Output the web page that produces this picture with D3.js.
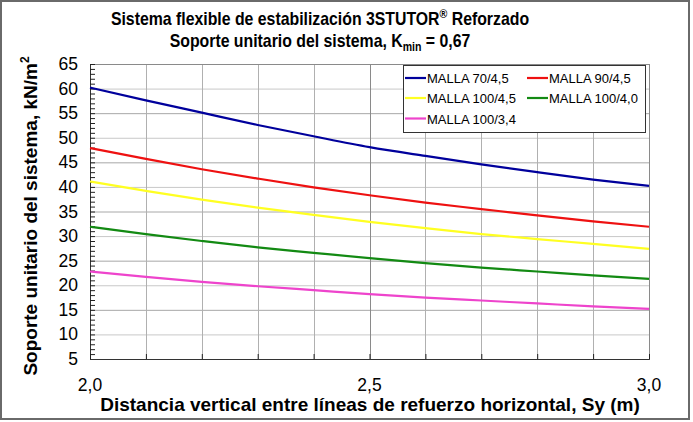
<!DOCTYPE html>
<html><head><meta charset="utf-8">
<script src="https://cdn.jsdelivr.net/npm/d3@7"></script>
<style>
body{margin:0;background:#fff;}
svg text{font-family:"Liberation Sans",Arial,sans-serif;fill:#000;}
</style></head>
<body>
<svg id="c" width="693" height="422"></svg>
<script>
const xValues = [2.0, 2.1, 2.2, 2.3, 2.4, 2.5, 2.6, 2.7, 2.8, 2.9, 3.0];
const malla70_45  = [60.2, 57.6, 55.1, 52.6, 50.3, 48.1, 46.3, 44.6, 43.0, 41.5, 40.2];
const malla90_45  = [47.9, 45.7, 43.6, 41.7, 39.9, 38.3, 36.8, 35.5, 34.2, 33.0, 31.9];
const malla100_45 = [41.1, 39.2, 37.4, 35.8, 34.3, 32.9, 31.6, 30.4, 29.4, 28.4, 27.4];
const malla100_40 = [31.9, 30.4, 29.0, 27.7, 26.6, 25.5, 24.5, 23.6, 22.8, 22.0, 21.3];
const malla100_34 = [22.8, 21.7, 20.7, 19.8, 19.0, 18.2, 17.5, 16.9, 16.3, 15.7, 15.2];
const seriesNames = ["MALLA 70/4,5","MALLA 90/4,5","MALLA 100/4,5","MALLA 100/4,0","MALLA 100/3,4"];
const seriesColors = ["#00009c","#ee1111","#ffff22","#138a13","#ee44cc"];
const yTicks = [5,10,15,20,25,30,35,40,45,50,55,60,65];
const xTicks = [2.0, 2.5, 3.0];
const allSeries = [malla70_45, malla90_45, malla100_45, malla100_40, malla100_34];

const svg = d3.select("#c");
const x = d3.scaleLinear().domain([2,3]).range([90,649]);
const y = d3.scaleLinear().domain([5,65]).range([359,64]);
const fmt = d => d.toFixed(1).replace(".",",");

// outer border
svg.append("rect").attr("x",1).attr("y",1).attr("width",688).attr("height",418)
  .attr("fill","#fff").attr("stroke","#6a6a6a").attr("stroke-width",2);

// grid
const g = svg.append("g");
g.selectAll(".hg").data(d3.range(10,65,5)).join("line")
  .attr("x1",x(2)).attr("x2",x(3)).attr("y1",d=>y(d)+0.5).attr("y2",d=>y(d)+0.5)
  .attr("stroke",d=> d%10===0 ? "#c8c8c8" : "#a8a8a8").attr("stroke-width",1);
g.selectAll(".vg").data(d3.range(1,10).map(i=>2+i/10)).join("line")
  .attr("y1",y(5)).attr("y2",y(65)).attr("x1",d=>Math.round(x(d))+0.5).attr("x2",d=>Math.round(x(d))+0.5)
  .attr("stroke",(d,i)=> i===4 ? "#8a8a8a" : "#b0b0b0").attr("stroke-width",1);

// plot frame
svg.append("rect").attr("x",x(2)+0.5).attr("y",y(65)+0.5).attr("width",x(3)-x(2)).attr("height",y(5)-y(65))
  .attr("fill","none").attr("stroke","#8a8a8a");

// axes with inward ticks
const yAxis = d3.axisRight(y).tickValues(d3.range(5,66,1)).tickSize(5).tickFormat("");
svg.append("g").attr("transform",`translate(${x(2)},0)`).call(yAxis)
  .call(s=>s.select(".domain").attr("stroke","#333"))
  .call(s=>s.selectAll(".tick line").attr("stroke","#222"));
const xAxis = d3.axisTop(x).tickValues(d3.range(0,11).map(i=>2+i/10)).tickSize(5).tickFormat("");
svg.append("g").attr("transform",`translate(0,${y(5)})`).call(xAxis)
  .call(s=>s.select(".domain").attr("stroke","#333"))
  .call(s=>s.selectAll(".tick line").attr("stroke","#222"));

// tick labels
svg.selectAll(".yl").data(yTicks).join("text")
  .attr("x",78).attr("y",d=>y(d)+6).attr("text-anchor","end").attr("font-size",17.5).text(d=>d);
svg.selectAll(".xl").data(xTicks).join("text")
  .attr("x",d=>x(d)).attr("y",391).attr("text-anchor","middle").attr("font-size",17.5).text(fmt);

// lines
const line = d3.line().x((d,i)=>x(xValues[i])).y(d=>y(d)).curve(d3.curveMonotoneX);
svg.selectAll(".ln").data(allSeries).join("path")
  .attr("d",line).attr("fill","none").attr("stroke",(d,i)=>seriesColors[i]).attr("stroke-width",2.2);

// legend
const lg = svg.append("g");
lg.append("rect").attr("x",403.5).attr("y",65.5).attr("width",242).attr("height",67)
  .attr("fill","#fff").attr("stroke","#333");
const legPos = [[405,78],[527,78],[405,98],[527,98],[405,118.5]];
seriesNames.forEach((n,i)=>{
  const [lx,ly]=legPos[i];
  lg.append("line").attr("x1",lx).attr("x2",lx+21).attr("y1",ly).attr("y2",ly)
    .attr("stroke",seriesColors[i]).attr("stroke-width",2.2);
  lg.append("text").attr("x",lx+22).attr("y",ly+5).attr("font-size",13).text(n);
});

// titles (slightly condensed like the original)
const tg = svg.append("g").attr("transform","translate(320,0) scale(0.88,1)");
const t1 = tg.append("text").attr("x",0).attr("y",25).attr("text-anchor","middle")
  .attr("font-size",18).attr("font-weight","bold");
t1.append("tspan").text("Sistema flexible de estabilización 3STUTOR");
t1.append("tspan").attr("font-size",12).attr("dy",-7).text("®");
t1.append("tspan").attr("dy",7).text(" Reforzado");
const t2 = tg.append("text").attr("x",0).attr("y",47).attr("text-anchor","middle")
  .attr("font-size",18).attr("font-weight","bold");
t2.append("tspan").text("Soporte unitario del sistema, K");
t2.append("tspan").attr("font-size",12).attr("dy",4).text("min");
t2.append("tspan").attr("dy",-4).text(" = 0,67");

// axis titles
svg.append("text").attr("x",370).attr("y",411).attr("text-anchor","middle")
  .attr("font-size",19).attr("font-weight","bold")
  .text("Distancia vertical entre líneas de refuerzo horizontal, Sy (m)");
const yt = svg.append("text").attr("transform","translate(37,216) rotate(-90)").attr("text-anchor","middle")
  .attr("font-size",19).attr("font-weight","bold");
yt.append("tspan").text("Soporte unitario del sistema, kN/m");
yt.append("tspan").attr("font-size",12).attr("dy",-8).text("2");
</script>
</body></html>
